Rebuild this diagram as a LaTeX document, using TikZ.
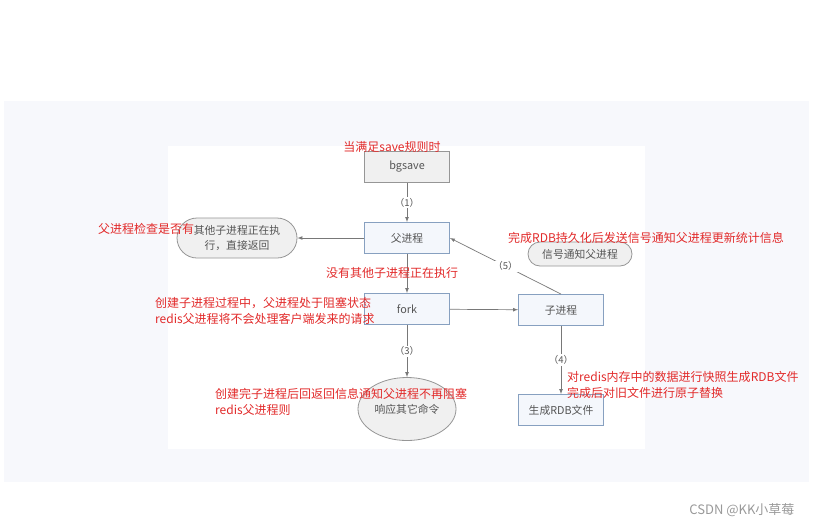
\documentclass[tikz,border=0pt]{standalone}
\usepackage{fontspec}
\setmainfont{Noto Sans CJK SC}
\usepackage{tikz}
\usetikzlibrary{shapes.geometric}
\definecolor{redtxt}{RGB}{226,42,42}
\definecolor{panel}{RGB}{247,248,252}
\definecolor{boxline}{RGB}{135,160,192}
\definecolor{boxfill}{RGB}{244,247,252}
\definecolor{greyline}{RGB}{150,150,150}
\definecolor{greyfill}{RGB}{240,240,240}
\definecolor{txt}{RGB}{85,85,85}
\definecolor{arrline}{RGB}{120,120,120}

\begin{document}
\begin{tikzpicture}[x=1pt,y=-1pt,
  nodes={font=\fontsize{10.8}{15}\selectfont,text=txt},
  procbox/.style={draw=boxline,fill=boxfill,line width=.9pt,minimum width=85pt,minimum height=31pt,inner sep=0pt},
  cmdbox/.style={procbox,draw=greyline,fill=greyfill},
  pillbox/.style={draw=greyline,fill=greyfill,line width=.8pt,align=center,inner sep=0pt},
  arr/.style={-latex,draw=arrline,line width=.7pt},
  num/.style={fill=white,inner sep=1pt,font=\fontsize{9.5}{9.5}\selectfont},
  note/.style={text=redtxt,font=\fontsize{12}{16}\selectfont,align=left,inner sep=0pt}]
\useasboundingbox (0,0) rectangle (813,528);
% background panels
\fill[panel] (4,101) rectangle (809,482);
\fill[white] (168,146) rectangle (645,449);
% boxes
\node[cmdbox] (bgsave) at (407,167) {bgsave};
\node[procbox] (fu) at (407,238) {父进程};
\node[procbox] (fork) at (407,309) {fork};
\node[procbox] (zi) at (561,310) {子进程};
\node[procbox] (rdb) at (561,410) {生成RDB文件};
\node[pillbox,rounded corners=20pt,minimum width=120pt,minimum height=40pt] (chk) at (237,238) {其他子进程正在执\\行，直接返回};
\node[pillbox,rounded corners=12pt,minimum width=104pt,minimum height=24pt] (sig) at (580,254) {信号通知父进程};
\node[pillbox,ellipse,minimum width=98pt,minimum height=63pt] (resp) at (407,409) {响应其它命令};
% connectors
\draw[arr] (bgsave) -- node[num]{（1）} (fu);
\draw[arr] (fu) -- (chk);
\draw[arr] (fu) -- (fork);
\draw[arr] (fork) -- (zi);
\draw[arr] (fork) -- node[num]{（3）} (resp);
\draw[arr] (zi) -- node[num,pos=.5]{（4）} (rdb);
\draw[arr] (zi.north) -- node[num]{（5）} (fu.east);
% red notes
\node[note,anchor=center] (n1) at (392,147) {当满足save规则时};
\node[note,anchor=west] (n2) at (98,229) {父进程检查是否有};
\node[note,anchor=west] (n3) at (508,238) {完成RDB持久化后发送信号通知父进程更新统计信息};
\node[note,anchor=west] (n4) at (326,273) {没有其他子进程正在执行};
\node[note,anchor=west] (n5) at (155,311) {创建子进程过程中，父进程处于阻塞状态\\redis父进程将不会处理客户端发来的请求};
\node[note,anchor=west] (n6) at (215,402) {创建完子进程后回返回信息通知父进程不再阻塞\\redis父进程则};
\node[note,anchor=west] (n7) at (567,385) {对redis内存中的数据进行快照生成RDB文件\\完成后对旧文件进行原子替换};
% watermark
\node[anchor=east,text=gray!80,font=\fontsize{13}{13}\selectfont] (wm) at (798,510) {CSDN @KK小草莓};
\end{tikzpicture}
\end{document}
